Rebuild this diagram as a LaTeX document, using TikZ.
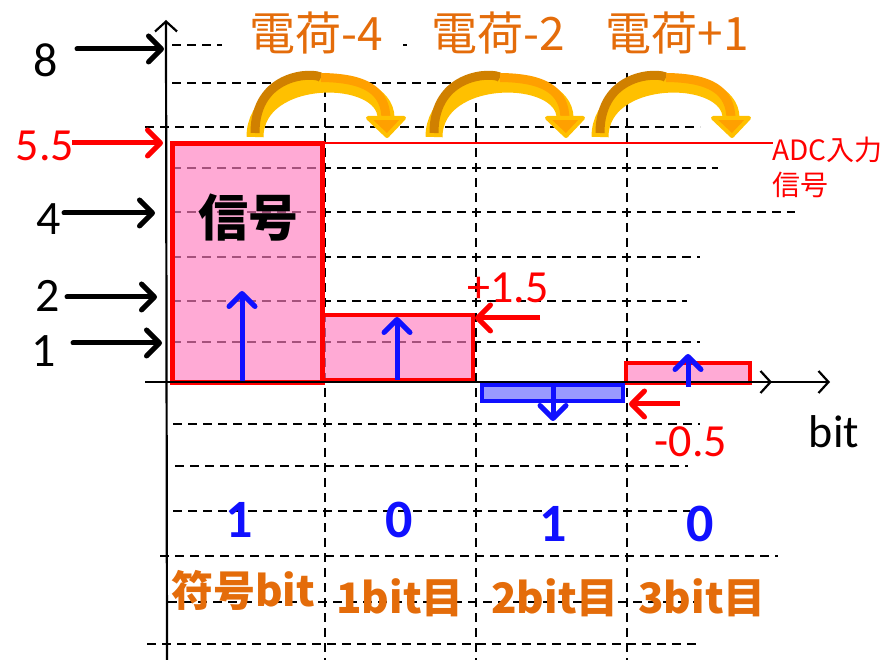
\documentclass[tikz,border=0pt]{standalone}
\usepackage{fontspec}
\setmainfont{Carlito}
\newfontfamily\cjk{Noto Sans CJK JP}
\usetikzlibrary{arrows.meta}
\definecolor{ora}{HTML}{E46C0A}
\definecolor{pinkf}{HTML}{FF7DBF}
\definecolor{bluef}{HTML}{9999FF}
\definecolor{myblue}{HTML}{1010FF}
\definecolor{gold}{HTML}{FFC000}
\definecolor{arcin}{HTML}{D08000}
\definecolor{arcinl}{HTML}{FFA000}
\tikzset{
  gridline/.style={dash pattern=on 9pt off 6pt, line width=1.6pt, black},
  lblarrow/.style={line width=5pt, line cap=round, -{Straight Barb[length=13pt,width=26pt,round]}},
  bluearrow/.style={myblue, line width=5pt, -{Straight Barb[length=13pt,width=26pt,round]}},
  axisline/.style={line width=2.2pt, -{Straight Barb[length=10pt,width=22pt]}},
  bigfont/.style={inner sep=0pt, font=\fontsize{48}{56}\selectfont},
  redfont/.style={inner sep=0pt, red, font=\fontsize{46}{54}\selectfont},
  bittext/.style={inner sep=0pt, myblue, font=\fontsize{54}{60}\selectfont\bfseries},
  toplabel/.style={inner sep=0pt, ora, font=\fontsize{46}{52}\selectfont\cjk},
  botlabel/.style={inner sep=0pt, ora, font=\fontsize{42}{50}\selectfont\cjk\bfseries},
}
\newcommand{\chargearc}[1]{%
  \draw[gold, line width=17pt] (#1,137) .. controls (#1,70) and (#1+131,70) .. (#1+131,118);
  \draw[arcin, line width=9pt] (#1,133) .. controls (#1,72) and (#1+60,72) .. (#1+66,77.5);
  \draw[arcinl, line width=9pt] (#1+66,77.5) .. controls (#1+110,78) and (#1+131,90) .. (#1+131,120);
  \filldraw[fill=arcinl, draw=gold, line width=4pt, line join=round]
    (#1+113,118) -- (#1+149,118) -- (#1+132,136) -- cycle;
}
\begin{document}
\begin{tikzpicture}[x=1pt,y=-1pt]
\useasboundingbox (0,0) rectangle (895,660);
% horizontal grid
\foreach \yy/\xa/\xb in {45/172/222, 83/172/690, 127/145/700, 168/172/718, 212/172/795, 257/172/700, 301/172/687, 342/172/700, 424/173/700, 466/175/688, 511/173/690, 556/160/778, 602/168/700, 644/147/700}
  \draw[gridline] (\xa,\yy) -- (\xb,\yy);
\draw[gridline] (403,45) -- (407,45);
% vertical grid
\foreach \xx in {325,476,627}
  \draw[gridline] (\xx,73) -- (\xx,660);
% bars
\fill[pinkf, opacity=0.65] (172.5,143.5) rectangle (322,383);
\fill[pinkf, opacity=0.65] (322,315.5) rectangle (472.5,380);
\fill[pinkf, opacity=0.65] (626,363) rectangle (750,383);
\draw[red, line width=5pt] (172.5,143.5) rectangle (322,383);
\draw[red, line width=4pt] (322,315.5) rectangle (472.5,380);
\draw[red, line width=4pt] (626,363) rectangle (750,383);
\filldraw[fill=bluef, draw=myblue, line width=4pt] (482,385) rectangle (623,401);
% ADC input line
\draw[red, line width=1.5pt] (322,143) -- (773,143);
% axes
\coordinate (yb) at (167,660); \coordinate (yt) at (166,20);
\coordinate (xl) at (145,382); \coordinate (xr) at (830,382); \coordinate (xm) at (772,382);
\draw[axisline] (yb) -- (yt);
\draw[axisline] (xl) -- (xr);
\draw[axisline] (xl) -- (xm);
% charge arcs
\chargearc{255}
\chargearc{434}
\chargearc{600}
% left labels and arrows
\node[bigfont] (l8) at (46,60) {8};
\node[bigfont] (l4) at (49,219) {4};
\node[bigfont] (l2) at (48,296) {2};
\node[bigfont] (l1) at (44,351) {1};
\node[redfont] (l55) at (45,146) {5.5};
\coordinate (a8s) at (77,49); \coordinate (a8e) at (164,49);
\coordinate (a4s) at (64,213); \coordinate (a4e) at (155,213);
\coordinate (a2s) at (67,297); \coordinate (a2e) at (157,297);
\coordinate (a1s) at (73,343); \coordinate (a1e) at (162,343);
\coordinate (a55s) at (72,143); \coordinate (a55e) at (163,143);
\draw[lblarrow] (a8s) -- (a8e);
\draw[lblarrow] (a4s) -- (a4e);
\draw[lblarrow] (a2s) -- (a2e);
\draw[lblarrow] (a1s) -- (a1e);
\draw[lblarrow, red, line cap=butt] (a55s) -- (a55e);
% residual arrows
\coordinate (p15s) at (540,318); \coordinate (p15e) at (475,318);
\coordinate (m05s) at (680,404); \coordinate (m05e) at (629,404);
\draw[lblarrow, red, line cap=butt] (p15s) -- (p15e);
\draw[lblarrow, red, line cap=butt] (m05s) -- (m05e);
\node[redfont] (t15) at (508,288) {+1.5};
\node[redfont] (t05) at (691,442) {-0.5};
% blue arrows
\coordinate (b1s) at (242,381); \coordinate (b1e) at (242,291);
\coordinate (b2s) at (397,380); \coordinate (b2e) at (397,317);
\coordinate (b3s) at (553,386); \coordinate (b3e) at (553,421);
\coordinate (b4s) at (688,387); \coordinate (b4e) at (688,354);
\draw[bluearrow] (b1s) -- (b1e);
\draw[bluearrow] (b2s) -- (b2e);
\draw[bluearrow] (b3s) -- (b3e);
\draw[bluearrow] (b4s) -- (b4e);
% texts
\node[inner sep=0pt, font=\fontsize{50}{56}\selectfont\cjk\bfseries] (sig) at (248,218) {信号};
\node[inner sep=0pt, anchor=west, red, font=\fontsize{28}{34}\selectfont\cjk] (adc1) at (772,150) {ADC入力};
\node[inner sep=0pt, anchor=west, red, font=\fontsize{28}{34}\selectfont\cjk] (adc2) at (772,185) {信号};
\node[toplabel] (c4) at (316,33) {電荷-4};
\node[toplabel] (c2) at (498,33) {電荷-2};
\node[toplabel] (c1) at (677,33) {電荷+1};
\node[inner sep=0pt, font=\fontsize{46}{54}\selectfont] (bitl) at (834,432) {bit};
\node[bittext] (v1) at (239,520) {1};
\node[bittext] (v2) at (399,520) {0};
\node[bittext] (v3) at (553,524) {1};
\node[bittext] (v4) at (700,524) {0};
\node[botlabel] (n1) at (243,590) {符号bit};
\node[botlabel] (n2) at (400,598) {1bit目};
\node[botlabel] (n3) at (555,598) {2bit目};
\node[botlabel] (n4) at (702,598) {3bit目};
\end{tikzpicture}
\end{document}
